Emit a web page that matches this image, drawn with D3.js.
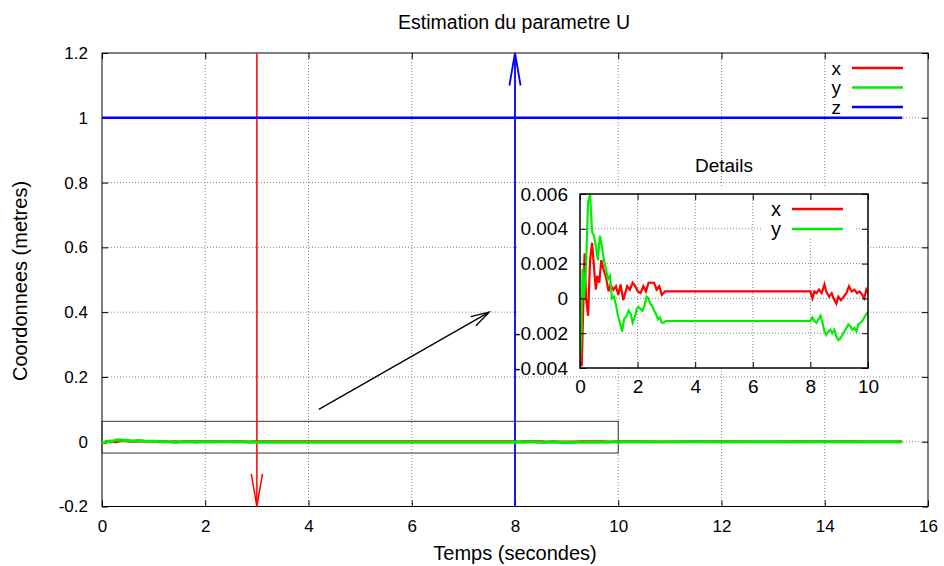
<!DOCTYPE html>
<html><head><meta charset="utf-8">
<script src="https://cdn.jsdelivr.net/npm/d3@7"></script>
<style>
body{margin:0;background:#fff;}
text{font-family:"Liberation Sans",Arial,Helvetica,sans-serif;fill:#000;}
</style></head>
<body><svg id="c" width="944" height="566"></svg>
<script>
// ---------- data ----------
const mainXTicks = [0,2,4,6,8,10,12,14,16];
const mainYTicks = [-0.2,0,0.2,0.4,0.6,0.8,1.0,1.2];
const mainYTickLabels = ["-0.2","0","0.2","0.4","0.6","0.8","1","1.2"];
const insetXTicks = [0,2,4,6,8,10];
const insetYTicks = [-0.004,-0.002,0,0.002,0.004,0.006];
const insetYTickLabels = ["-0.004","-0.002","0","0.002","0.004","0.006"];

const tX = [0,0.06,0.12,0.16,0.21,0.28,0.35,0.42,0.49,0.55,0.6,0.67,0.74,0.81,0.92,0.99,1.06,1.16,1.25,1.33,1.41,1.5,1.57,1.64,1.73,1.83,1.92,2.01,2.1,2.2,2.29,2.38,2.47,2.57,2.66,2.75,2.84,2.95,
  8.0,8.07,8.14,8.21,8.3,8.39,8.49,8.55,8.65,8.74,8.83,8.9,8.97,9.06,9.16,9.25,9.34,9.43,9.53,9.62,9.71,9.8,9.87,9.94,10.0,
  10.4,10.9,11.5,12.1,12.8,13.4,14.0,14.6,15.1,15.5];
const xVals = [-0.00275,-0.0039,0,0.0026,0,-0.001,0.0022,0.0032,0.0017,0.0005,0.0013,0.0009,0.0022,0.0017,0.0011,0.0004,0.0008,0.0005,0.0007,0.0002,0.0008,-0.0001,0.0003,0.0007,0.0005,0.0009,0.0007,0.0004,0.0003,0.0007,0.0004,0.0009,0.0009,0.0009,0.0005,0.0007,0.0002,0.0004,
  0.0004,0,0.0004,0.0003,0.0005,0.0003,0.0008,0.0004,0.0001,0.0003,-0.0001,-0.0003,0.0001,-0.0001,0.0001,0.0003,0.0007,0.0004,0.0005,0.0003,0.0004,0.0002,0,0.0005,0.0003,
  0.0006,0.0002,0.0009,0.0004,0.0001,0.0006,0.0003,0.0007,0.0002,0.0004];
const tY = [0,0.05,0.09,0.14,0.21,0.28,0.35,0.42,0.49,0.55,0.62,0.69,0.76,0.83,0.9,0.97,1.04,1.11,1.18,1.25,1.32,1.39,1.46,1.53,1.62,1.69,1.76,1.83,1.9,1.97,2.03,2.1,2.17,2.24,2.31,2.38,2.43,2.5,2.57,2.64,2.71,2.77,2.84,2.91,2.98,
  8.0,8.07,8.14,8.21,8.28,8.35,8.42,8.49,8.55,8.62,8.69,8.76,8.83,8.9,8.97,9.04,9.11,9.18,9.25,9.32,9.39,9.46,9.53,9.6,9.66,9.73,9.8,9.87,9.94,10.0,
  10.4,10.9,11.5,12.1,12.8,13.4,14.0,14.6,15.1,15.5];
const yVals = [-0.0037,-0.002,0.0017,0,0.0019,0.0055,0.006,0.0038,0.0036,0.003,0.0022,0.0036,0.003,0.0022,0.0017,0.0011,0.0013,0,0.0001,-0.0004,-0.001,-0.0014,-0.0019,-0.0012,-0.001,-0.0007,-0.0009,-0.0014,-0.0011,-0.0006,-0.0005,-0.0006,-0.0007,-0.0004,0.0001,0,-0.0003,-0.0004,-0.0007,-0.0009,-0.0012,-0.0011,-0.0014,-0.0014,-0.0013,
  -0.0013,-0.0011,-0.0013,-0.0014,-0.0012,-0.001,-0.0014,-0.0019,-0.0021,-0.0019,-0.0018,-0.002,-0.0018,-0.0022,-0.0024,-0.0023,-0.0021,-0.0019,-0.0017,-0.0015,-0.0016,-0.0018,-0.0017,-0.0019,-0.0015,-0.0014,-0.0013,-0.0011,-0.0009,-0.0008,
  -0.0006,-0.0009,-0.0004,-0.0007,-0.0003,-0.0005,-0.0002,-0.0006,-0.0004,-0.0005];
const tZ = [0,15.5];
const zVals = [1,1];

const seriesNames = ["x","y","z"];
const seriesColors = ["#ff0000","#00ee00","#0000ff"];

// annotations (data coordinates)
const arrowRed = {x:3, y1:1.2, y2:-0.2};
const arrowBlue = {x:8, y1:-0.2, y2:1.2};
const zoomRect = {x1:0, x2:10, y1:-0.035, y2:0.063};
const diagArrow = {x1:4.2, y1:0.1, x2:7.5, y2:0.4};

// ---------- layout ----------
const svg = d3.select("#c");
const M = {l:102, r:928, t:53, b:506.5};
const I = {l:580, r:868, t:194, b:368};
const x = d3.scaleLinear().domain([0,16]).range([M.l,M.r]);
const y = d3.scaleLinear().domain([-0.2,1.2]).range([M.b,M.t]);
const xi = d3.scaleLinear().domain([0,10]).range([I.l,I.r]);
const yi = d3.scaleLinear().domain([-0.004,0.006]).range([I.b,I.t]);

const gridStyle = s => s.attr("stroke","#888").attr("stroke-width",1).attr("stroke-dasharray","1,2");

// main grid
const gm = svg.append("g");
gm.selectAll(".gx").data(mainXTicks.slice(1,-1)).join("line")
  .attr("x1",d=>x(d)).attr("x2",d=>x(d)).attr("y1",M.t).attr("y2",M.b).call(gridStyle);
gm.selectAll(".gy").data(mainYTicks.slice(1,-1)).join("line")
  .attr("x1",M.l).attr("x2",M.r).attr("y1",d=>y(d)).attr("y2",d=>y(d)).call(gridStyle);

// main axes (inward ticks, mirrored)
const fs = "17px";
const axB = d3.axisBottom(x).tickValues(mainXTicks).tickSize(-6).tickPadding(13).tickFormat(d3.format("d"));
const axT = d3.axisTop(x).tickValues(mainXTicks).tickSize(-6).tickFormat("");
const axL = d3.axisLeft(y).tickValues(mainYTicks).tickSize(-6).tickPadding(14).tickFormat((d,i)=>mainYTickLabels[i]);
const axR = d3.axisRight(y).tickValues(mainYTicks).tickSize(-6).tickFormat("");
function styleAxis(g,size){ g.select(".domain").remove(); g.selectAll("line").attr("stroke","#000");
  g.selectAll("text").attr("font-size",size).attr("font-family","Liberation Sans, Arial, sans-serif"); }
svg.append("g").attr("transform",`translate(0,${M.b})`).call(axB).call(g=>styleAxis(g,fs));
svg.append("g").attr("transform",`translate(0,${M.t})`).call(axT).call(g=>styleAxis(g,fs));
svg.append("g").attr("transform",`translate(${M.l},0)`).call(axL).call(g=>styleAxis(g,fs));
svg.append("g").attr("transform",`translate(${M.r},0)`).call(axR).call(g=>styleAxis(g,fs));
svg.append("rect").attr("x",M.l).attr("y",M.t).attr("width",M.r-M.l).attr("height",M.b-M.t)
  .attr("fill","none").attr("stroke","#000").attr("stroke-width",1);

// zoom rectangle
svg.append("rect").attr("x",x(zoomRect.x1)).attr("y",y(zoomRect.y2))
  .attr("width",x(zoomRect.x2)-x(zoomRect.x1)).attr("height",y(zoomRect.y1)-y(zoomRect.y2))
  .attr("fill","none").attr("stroke","#333").attr("stroke-width",1);

// arrows
function arrow(g,x1,y1,x2,y2,color,w,headLen,headAng){
  g.append("line").attr("x1",x1).attr("y1",y1).attr("x2",x2).attr("y2",y2)
    .attr("stroke",color).attr("stroke-width",w);
  const a = Math.atan2(y2-y1,x2-x1);
  const p = [a+Math.PI-headAng, a+Math.PI+headAng].map(t=>[x2+headLen*Math.cos(t), y2+headLen*Math.sin(t)]);
  g.append("path").attr("d",`M${p[0][0]},${p[0][1]}L${x2},${y2}L${p[1][0]},${p[1][1]}`)
    .attr("fill","none").attr("stroke",color).attr("stroke-width",w);
}
const ga = svg.append("g");
arrow(ga,x(arrowRed.x),y(arrowRed.y1),x(arrowRed.x),y(arrowRed.y2),"#ff0000",1.5,33,0.17);
arrow(ga,x(arrowBlue.x),y(arrowBlue.y1),x(arrowBlue.x),y(arrowBlue.y2),"#0000ff",1.8,33,0.17);
arrow(ga,x(diagArrow.x1),y(diagArrow.y1),x(diagArrow.x2),y(diagArrow.y2),"#000",1.3,19,0.28);

// main series
const lineM = (tArr) => d3.line().x((d,i)=>x(tArr[i])).y(d=>y(d));
svg.append("path").attr("d",lineM(tX)(xVals)).attr("fill","none").attr("stroke",seriesColors[0]).attr("stroke-width",2.5);
svg.append("path").attr("d",lineM(tY)(yVals)).attr("fill","none").attr("stroke",seriesColors[1]).attr("stroke-width",3);
svg.append("path").attr("d",lineM(tZ)(zVals)).attr("fill","none").attr("stroke",seriesColors[2]).attr("stroke-width",2.5);

// main legend
seriesNames.forEach((n,i)=>{
  const yy = 68 + i*19.5;
  svg.append("text").attr("x",841).attr("y",yy).attr("dy","0.35em").attr("text-anchor","end").attr("font-size","19px").text(n);
  svg.append("line").attr("x1",852).attr("x2",903).attr("y1",yy).attr("y2",yy).attr("stroke",seriesColors[i]).attr("stroke-width",2.5);
});

// titles
svg.append("text").attr("x",514).attr("y",29).attr("text-anchor","middle").attr("font-size","19.5px").text("Estimation du parametre U");
svg.append("text").attr("x",515).attr("y",560).attr("text-anchor","middle").attr("font-size","20px").text("Temps (secondes)");
svg.append("text").attr("transform","translate(27,281) rotate(-90)").attr("text-anchor","middle").attr("font-size","20px").text("Coordonnees (metres)");

// ---------- inset ----------
svg.append("rect").attr("x",517).attr("y",187).attr("width",I.r-517).attr("height",I.b-187).attr("fill","#fff");
const gi = svg.append("g");
gi.selectAll(".gx").data(insetXTicks.slice(1,-1)).join("line")
  .attr("x1",d=>xi(d)).attr("x2",d=>xi(d)).attr("y1",I.t).attr("y2",I.b).call(gridStyle);
gi.selectAll(".gy").data(insetYTicks.slice(1,-1)).join("line")
  .attr("x1",I.l).attr("x2",I.r).attr("y1",d=>yi(d)).attr("y2",d=>yi(d)).call(gridStyle);

// inset legend box (opaque)
svg.append("rect").attr("x",763).attr("y",199).attr("width",93).attr("height",40).attr("fill","#fff");

svg.append("clipPath").attr("id","ic").append("rect").attr("x",I.l).attr("y",I.t).attr("width",I.r-I.l).attr("height",I.b-I.t);
const lineI = (tArr) => d3.line().x((d,i)=>xi(tArr[i])).y(d=>yi(d));
const nX = tX.filter(t=>t<=10).length, nY = tY.filter(t=>t<=10).length;
const gs = svg.append("g").attr("clip-path","url(#ic)");
gs.append("path").attr("d",lineI(tX)(xVals.slice(0,nX))).attr("fill","none").attr("stroke",seriesColors[0]).attr("stroke-width",2.2);
gs.append("path").attr("d",lineI(tY)(yVals.slice(0,nY))).attr("fill","none").attr("stroke",seriesColors[1]).attr("stroke-width",2.2);

const fsi = "19px";
const aiB = d3.axisBottom(xi).tickValues(insetXTicks).tickSize(-6).tickPadding(12).tickFormat(d3.format("d"));
const aiT = d3.axisTop(xi).tickValues(insetXTicks).tickSize(-6).tickFormat("");
const aiL = d3.axisLeft(yi).tickValues(insetYTicks).tickSize(-6).tickPadding(12).tickFormat((d,i)=>insetYTickLabels[i]);
const aiR = d3.axisRight(yi).tickValues(insetYTicks).tickSize(-6).tickFormat("");
svg.append("g").attr("transform",`translate(0,${I.b})`).call(aiB).call(g=>styleAxis(g,fsi));
svg.append("g").attr("transform",`translate(0,${I.t})`).call(aiT).call(g=>styleAxis(g,fsi));
svg.append("g").attr("transform",`translate(${I.l},0)`).call(aiL).call(g=>styleAxis(g,fsi));
svg.append("g").attr("transform",`translate(${I.r},0)`).call(aiR).call(g=>styleAxis(g,fsi));
svg.append("rect").attr("x",I.l).attr("y",I.t).attr("width",I.r-I.l).attr("height",I.b-I.t)
  .attr("fill","none").attr("stroke","#000").attr("stroke-width",1.5);

svg.append("text").attr("x",724).attr("y",172).attr("text-anchor","middle").attr("font-size","19px").text("Details");
seriesNames.slice(0,2).forEach((n,i)=>{
  const yy = 209 + i*20;
  svg.append("text").attr("x",781).attr("y",yy).attr("dy","0.35em").attr("text-anchor","end").attr("font-size","20px").text(n);
  svg.append("line").attr("x1",792).attr("x2",843).attr("y1",yy).attr("y2",yy).attr("stroke",seriesColors[i]).attr("stroke-width",2.5);
});
</script></body></html>
